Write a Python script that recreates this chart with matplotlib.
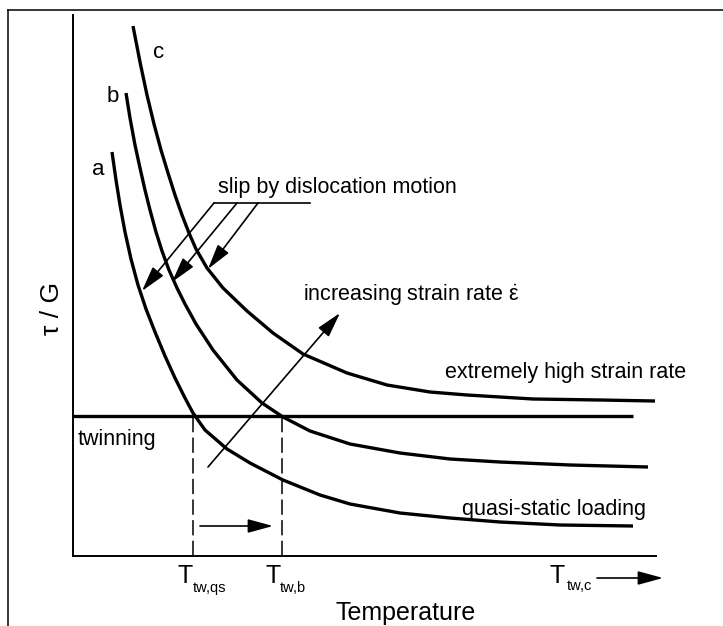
import matplotlib
matplotlib.use("Agg")
import matplotlib.pyplot as plt
from matplotlib.lines import Line2D

plt.rcParams['font.family'] = ['Liberation Sans', 'DejaVu Sans']
plt.rcParams['mathtext.fontset'] = 'custom'
plt.rcParams['mathtext.rm'] = 'Liberation Sans'
plt.rcParams['mathtext.it'] = 'Liberation Sans'

# ---- data (arbitrary units read from the schematic) ----
temp_a = [39, 43, 47, 52, 58, 65, 73, 82, 92, 102, 112, 120, 132, 154, 177, 210, 247, 277, 327, 377, 427, 487, 560]
tau_a = [404, 376, 351, 324, 297, 271, 247, 224, 200, 178, 158, 143, 126, 107, 93, 76, 61, 52, 43, 38, 34, 31, 30]

temp_b = [53, 57, 62, 67, 72, 77, 83, 89, 96, 104, 112, 123, 140, 164, 189, 210, 237, 277, 327, 377, 427, 497, 575]
tau_b = [463, 438, 411, 388, 366, 346, 324, 305, 286, 268, 252, 232, 206, 176, 153, 139, 125, 112, 103, 97, 94, 91, 89]

temp_c = [60, 67, 74, 81, 88, 95, 102, 109, 116, 123, 134, 150, 174, 200, 230, 274, 314, 357, 394, 460, 527, 582]
tau_c = [530, 494, 461, 432, 406, 383, 361, 341, 323, 307, 288, 268, 245, 223, 202, 183, 171, 164, 161, 157, 156, 155]

twin_level = 140
twin_temp = [0, 560]
T_tw_qs = 120
T_tw_b = 209

curve_labels = ['a', 'b', 'c']

fig = plt.figure(figsize=(7.23, 6.26), dpi=100)
W, H = 723, 626
ax = fig.add_axes([73 / W, 1 - 556 / H, 583 / W, 541 / H])
ax.set_xlim(0, 583)
ax.set_ylim(0, 541)
ax.set_xticks([])
ax.set_yticks([])
for s in ['top', 'right']:
    ax.spines[s].set_visible(False)
for s in ['left', 'bottom']:
    ax.spines[s].set_linewidth(1.4)

# outer frame (top and left edges)
fig.add_artist(Line2D([8 / W, 1], [1 - 10 / H, 1 - 10 / H], color='black', lw=1.1))
fig.add_artist(Line2D([8 / W, 8 / W], [1 - 10 / H, 0], color='black', lw=1.1))

lw_curve = 2.4
ax.plot(temp_a, tau_a, color='black', lw=lw_curve, solid_capstyle='butt')
ax.plot(temp_b, tau_b, color='black', lw=lw_curve, solid_capstyle='butt')
ax.plot(temp_c, tau_c, color='black', lw=lw_curve, solid_capstyle='butt')
ax.plot(twin_temp, [twin_level, twin_level], color='black', lw=2.4, solid_capstyle='butt')

ax.plot([T_tw_qs, T_tw_qs], [0, twin_level], color='black', lw=1.1, dashes=(10, 3.5))
ax.plot([T_tw_b, T_tw_b], [0, twin_level], color='black', lw=1.1, dashes=(10, 3.5))

fs = 15.5
ax.text(19, 381, curve_labels[0], fontsize=16, ha='left', va='baseline')
ax.text(34, 454, curve_labels[1], fontsize=16, ha='left', va='baseline')
ax.text(80, 498, curve_labels[2], fontsize=16, ha='left', va='baseline')

ax.text(145, 363, 'slip by dislocation motion', fontsize=fs, ha='left', va='baseline')
ax.text(230, 255, r'increasing strain rate $\dot{\varepsilon}$', fontsize=fs, ha='left', va='baseline')
ax.text(372, 178, 'extremely high strain rate', fontsize=fs, ha='left', va='baseline')
ax.text(5, 111, 'twinning', fontsize=fs, ha='left', va='baseline')
ax.text(389, 41, 'quasi-static loading', fontsize=fs, ha='left', va='baseline')

arrow_kw = dict(arrowstyle='-|>,head_length=1.1,head_width=0.3', color='black',
                lw=1.2, shrinkA=0, shrinkB=0, mutation_scale=14)

# slip leaders
ax.plot([141, 237], [353, 353], color='black', lw=1.2)
ax.annotate('', xy=(69, 265), xytext=(141, 353), arrowprops=arrow_kw)
ax.annotate('', xy=(99, 274), xytext=(164, 353), arrowprops=arrow_kw)
ax.annotate('', xy=(135, 287), xytext=(185, 353), arrowprops=arrow_kw)

# increasing strain-rate arrow
ax.annotate('', xy=(267, 243), xytext=(135, 89), arrowprops=arrow_kw)
# shift arrow
ax.annotate('', xy=(200, 30), xytext=(127, 30), arrowprops=arrow_kw)
# T_tw,c arrow (below axis)
ax.annotate('', xy=(590, -22), xytext=(524, -22), arrowprops=arrow_kw,
            annotation_clip=False)

# T labels below axis
Tfs, sfs = 18, 10.5
ax.text(104, -27, 'T', fontsize=Tfs, ha='left', va='baseline', clip_on=False)
ax.text(120, -36, 'tw,qs', fontsize=sfs, ha='left', va='baseline', clip_on=False)
ax.text(192, -27, 'T', fontsize=Tfs, ha='left', va='baseline', clip_on=False)
ax.text(207, -36, 'tw,b', fontsize=sfs, ha='left', va='baseline', clip_on=False)
ax.text(477, -27, 'T', fontsize=Tfs, ha='left', va='baseline', clip_on=False)
ax.text(494, -34, 'tw,c', fontsize=sfs, ha='left', va='baseline', clip_on=False)

ax.text(262, -64, 'Temperature', fontsize=18, ha='left', va='baseline', clip_on=False)
ax.text(-21, 248, 'τ / G', fontsize=19, ha='center', va='center', rotation=90, clip_on=False)

fig.savefig('out.png', dpi=100)
